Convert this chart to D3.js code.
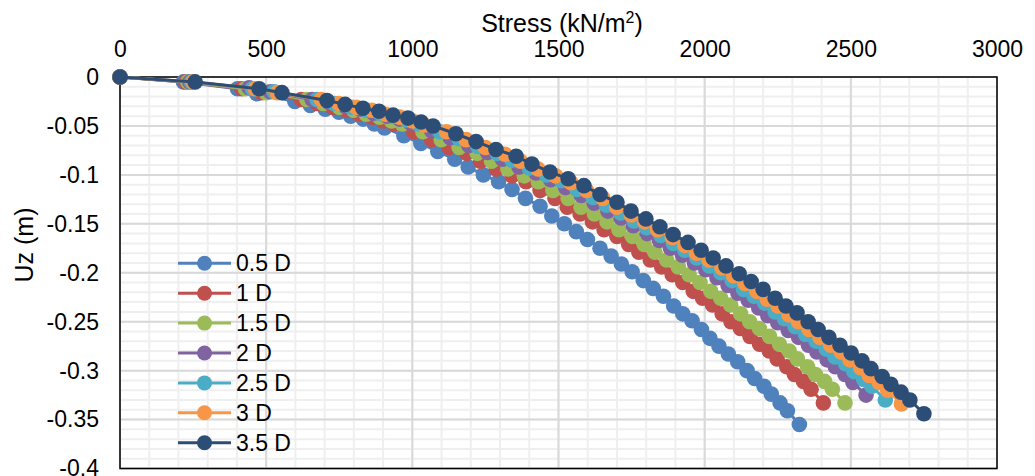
<!DOCTYPE html>
<html><head><meta charset="utf-8">
<script src="https://cdn.jsdelivr.net/npm/d3@7"></script>
<style>body{margin:0;background:#fff}text{font-family:"Liberation Sans",Arial,sans-serif;fill:#000}</style>
</head><body><svg id="c" width="1035" height="476"></svg>
<script>
const seriesNames = ["0.5 D","1 D","1.5 D","2 D","2.5 D","3 D","3.5 D"];
const seriesColors = ["#4F81BD","#C0504D","#9BBB59","#8064A2","#4BACC6","#F79646","#2C4D75"];
const xTickLabels = ["0","500","1000","1500","2000","2500","3000"];
const yTickLabels = ["0","-0.05","-0.1","-0.15","-0.2","-0.25","-0.3","-0.35","-0.4"];

const stress05 = [0,217,402,468,598,651,702,749,789,832,870,905,971,1029,1087,1145,1191,1243,1295,1341,1387,1437,1477,1520,1561,1599,1642,1680,1715,1752,1790,1824,1859,1894,1925,1957,1989,2018,2049,2081,2113,2145,2171,2203,2228,2258,2283,2324];
const uz05 = [0,-0.005,-0.012,-0.017,-0.025,-0.029,-0.033,-0.036,-0.040,-0.043,-0.048,-0.052,-0.060,-0.068,-0.076,-0.084,-0.092,-0.100,-0.107,-0.115,-0.124,-0.132,-0.142,-0.150,-0.158,-0.166,-0.175,-0.183,-0.191,-0.199,-0.208,-0.216,-0.224,-0.234,-0.242,-0.249,-0.258,-0.267,-0.275,-0.283,-0.291,-0.300,-0.308,-0.316,-0.324,-0.333,-0.341,-0.355];

const stress1 = [0,225,417,485,620,674,727,775,817,862,901,937,1005,1066,1125,1186,1233,1287,1341,1389,1437,1488,1530,1574,1616,1656,1700,1740,1775,1814,1853,1889,1925,1961,1993,2027,2060,2090,2122,2155,2188,2221,2248,2281,2307,2338,2364,2406];
const uz1 = [0,-0.005,-0.012,-0.016,-0.023,-0.027,-0.031,-0.034,-0.038,-0.041,-0.045,-0.048,-0.056,-0.064,-0.072,-0.078,-0.086,-0.094,-0.101,-0.107,-0.116,-0.124,-0.133,-0.140,-0.148,-0.156,-0.163,-0.171,-0.179,-0.187,-0.194,-0.202,-0.210,-0.219,-0.226,-0.233,-0.242,-0.250,-0.257,-0.265,-0.273,-0.280,-0.288,-0.296,-0.304,-0.311,-0.319,-0.333];

const stress15 = [0,232,429,500,639,695,750,799,842,888,929,966,1036,1099,1160,1222,1271,1327,1383,1431,1481,1533,1577,1623,1666,1707,1753,1793,1830,1870,1910,1947,1984,2021,2055,2089,2123,2154,2187,2222,2256,2289,2317,2352,2379,2410,2437,2480];
const uz15 = [0,-0.005,-0.012,-0.016,-0.023,-0.027,-0.031,-0.034,-0.038,-0.041,-0.045,-0.048,-0.056,-0.064,-0.072,-0.078,-0.086,-0.094,-0.101,-0.107,-0.116,-0.124,-0.133,-0.140,-0.148,-0.156,-0.163,-0.171,-0.179,-0.187,-0.194,-0.202,-0.210,-0.219,-0.226,-0.233,-0.242,-0.250,-0.257,-0.265,-0.273,-0.280,-0.288,-0.296,-0.304,-0.311,-0.319,-0.333];

const stress2 = [0,239,442,514,657,715,771,822,867,914,956,994,1066,1130,1193,1257,1308,1365,1423,1473,1524,1578,1622,1669,1714,1756,1803,1845,1883,1924,1965,2004,2042,2080,2114,2149,2185,2216,2250,2286,2321,2355,2384,2419,2447,2480,2507,2552];
const uz2 = [0,-0.005,-0.011,-0.015,-0.023,-0.026,-0.030,-0.033,-0.037,-0.040,-0.043,-0.047,-0.055,-0.062,-0.070,-0.077,-0.084,-0.092,-0.098,-0.105,-0.113,-0.121,-0.129,-0.137,-0.144,-0.152,-0.160,-0.167,-0.175,-0.182,-0.190,-0.197,-0.205,-0.213,-0.221,-0.228,-0.236,-0.244,-0.251,-0.259,-0.266,-0.274,-0.281,-0.289,-0.296,-0.304,-0.312,-0.325];

const stress25 = [0,245,453,527,674,733,791,843,889,938,981,1020,1094,1160,1224,1290,1341,1400,1459,1511,1563,1618,1664,1713,1758,1801,1850,1893,1932,1973,2016,2055,2094,2133,2169,2205,2241,2273,2309,2345,2381,2416,2446,2482,2510,2544,2572,2618];
const uz25 = [0,-0.005,-0.012,-0.015,-0.023,-0.027,-0.031,-0.034,-0.037,-0.040,-0.044,-0.048,-0.056,-0.063,-0.071,-0.078,-0.085,-0.093,-0.100,-0.106,-0.115,-0.123,-0.131,-0.139,-0.147,-0.154,-0.162,-0.170,-0.177,-0.185,-0.193,-0.200,-0.208,-0.217,-0.224,-0.231,-0.240,-0.247,-0.255,-0.263,-0.270,-0.278,-0.286,-0.293,-0.301,-0.309,-0.316,-0.330];

const stress3 = [0,250,463,538,688,748,808,861,908,957,1001,1041,1117,1184,1250,1317,1370,1430,1490,1543,1596,1652,1699,1749,1795,1839,1889,1932,1972,2015,2059,2099,2138,2178,2214,2251,2288,2321,2357,2394,2431,2467,2497,2534,2563,2597,2626,2673];
const uz3 = [0,-0.005,-0.012,-0.016,-0.023,-0.027,-0.031,-0.034,-0.038,-0.041,-0.045,-0.049,-0.056,-0.064,-0.072,-0.079,-0.086,-0.094,-0.101,-0.108,-0.116,-0.124,-0.133,-0.141,-0.148,-0.156,-0.164,-0.172,-0.180,-0.187,-0.195,-0.203,-0.211,-0.219,-0.227,-0.234,-0.243,-0.250,-0.258,-0.266,-0.274,-0.281,-0.289,-0.297,-0.305,-0.312,-0.320,-0.334];

const stress35 = [0,257,476,554,708,770,831,886,934,985,1030,1071,1149,1218,1286,1355,1409,1471,1533,1587,1642,1700,1748,1799,1847,1892,1943,1988,2029,2073,2118,2159,2200,2241,2278,2316,2354,2388,2425,2463,2501,2538,2569,2607,2637,2672,2702,2750];
const uz35 = [0,-0.005,-0.012,-0.016,-0.024,-0.028,-0.032,-0.035,-0.039,-0.042,-0.046,-0.050,-0.058,-0.066,-0.074,-0.081,-0.089,-0.097,-0.104,-0.111,-0.120,-0.128,-0.137,-0.145,-0.153,-0.161,-0.169,-0.177,-0.185,-0.193,-0.201,-0.209,-0.217,-0.226,-0.234,-0.241,-0.250,-0.258,-0.266,-0.274,-0.282,-0.290,-0.298,-0.306,-0.314,-0.322,-0.330,-0.344];

const stressSeries = [stress05,stress1,stress15,stress2,stress25,stress3,stress35];
const uzSeries = [uz05,uz1,uz15,uz2,uz25,uz3,uz35];

const series = seriesNames.map((name,i)=>({
  name, color: seriesColors[i],
  pts: d3.range(Math.min(stressSeries[i].length, uzSeries[i].length)).map(k=>({s:stressSeries[i][k], u:uzSeries[i][k]}))
}));

const svg = d3.select("#c");
const L=120, R=997, T=77, B=468.5;
const x = d3.scaleLinear().domain([0,3000]).range([L,R]);
const y = d3.scaleLinear().domain([0,-0.4]).range([T,B]);

// gridlines
const g = svg.append("g");
const xMinor = d3.range(0,3001,100), yMinor = d3.range(0,41,1).map(v=>-v/100);
g.selectAll(".xm").data(xMinor).join("line").attr("x1",d=>x(d)).attr("x2",d=>x(d)).attr("y1",T).attr("y2",B)
  .attr("stroke","#efefef").attr("stroke-width",2);
g.selectAll(".ym").data(yMinor).join("line").attr("y1",d=>y(d)).attr("y2",d=>y(d)).attr("x1",L).attr("x2",R)
  .attr("stroke","#efefef").attr("stroke-width",2);
g.selectAll(".xM").data(xMinor.filter(d=>d%500===0)).join("line").attr("x1",d=>x(d)).attr("x2",d=>x(d)).attr("y1",T).attr("y2",B)
  .attr("stroke","#d9d9d9").attr("stroke-width",2);
g.selectAll(".yM").data(yMinor.filter((d,i)=>i%5===0)).join("line").attr("y1",d=>y(d)).attr("y2",d=>y(d)).attr("x1",L).attr("x2",R)
  .attr("stroke","#d9d9d9").attr("stroke-width",2);

// plot border
svg.append("rect").attr("x",L).attr("y",T).attr("width",R-L).attr("height",B-T)
  .attr("fill","none").attr("stroke","#000").attr("stroke-width",1.5);

// axes
const xAxis = svg.append("g").attr("transform",`translate(0,${T})`)
  .call(d3.axisTop(x).tickValues(d3.range(0,3001,500)).tickFormat((d,i)=>xTickLabels[i]).tickSize(0).tickPadding(20));
const yAxis = svg.append("g").attr("transform",`translate(${L},0)`)
  .call(d3.axisLeft(y).tickValues(d3.range(0,9).map(v=>-v*0.05)).tickFormat((d,i)=>yTickLabels[i]).tickSize(0).tickPadding(21));
[xAxis,yAxis].forEach(a=>{a.select(".domain").remove();a.selectAll("text").attr("font-size",23).attr("font-family","Liberation Sans, Arial, sans-serif").attr("fill","#000");});

// titles
const xt = svg.append("text").attr("x",562).attr("y",32).attr("text-anchor","middle").attr("font-size",25);
xt.append("tspan").text("Stress (kN/m");
xt.append("tspan").attr("font-size",16).attr("dy",-9).text("2");
xt.append("tspan").attr("dy",9).text(")");
svg.append("text").attr("transform","translate(33,245) rotate(-90)").attr("text-anchor","middle").attr("font-size",25).text("Uz (m)");

// series
const line = d3.line().x(d=>x(d.s)).y(d=>y(d.u));
const sg = svg.append("g");
series.forEach(s=>{
  const gg = sg.append("g");
  gg.append("path").datum(s.pts).attr("d",line).attr("fill","none").attr("stroke",s.color).attr("stroke-width",3);
  gg.selectAll("circle").data(s.pts).join("circle").attr("cx",d=>x(d.s)).attr("cy",d=>y(d.u)).attr("r",7.8).attr("fill",s.color);
});

// legend
const lg = svg.append("g");
const ly0 = 263.3, ldy = 29.9;
series.forEach((s,i)=>{
  const yy = ly0 + i*ldy;
  lg.append("line").attr("x1",178).attr("x2",231).attr("y1",yy).attr("y2",yy).attr("stroke",s.color).attr("stroke-width",3);
  lg.append("circle").attr("cx",204.5).attr("cy",yy).attr("r",7.5).attr("fill",s.color);
  lg.append("text").attr("x",236).attr("y",yy).attr("dy","0.35em").attr("font-size",23).text(s.name);
});
</script></body></html>
